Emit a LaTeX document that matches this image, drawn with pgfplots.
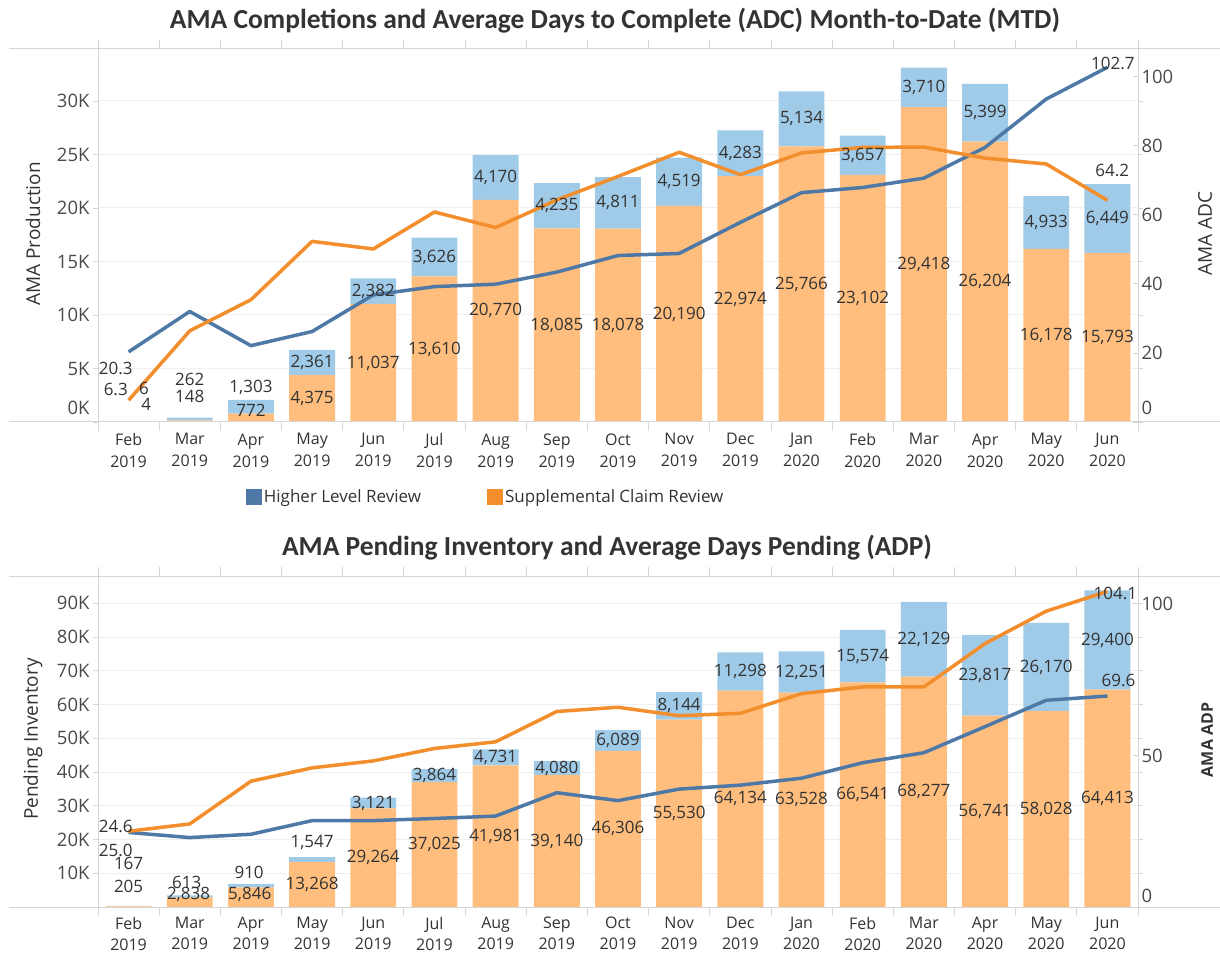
\documentclass[border=0pt]{standalone}
\usepackage{pgfplots}
\pgfplotsset{compat=1.18}
\usepackage{fontspec}
\setmainfont{Open Sans}
\newfontfamily\titlefont{Carlito}
\definecolor{barOrange}{HTML}{FFBE7D}
\definecolor{barBlue}{HTML}{A0CBE8}
\definecolor{lineBlue}{HTML}{4E79A7}
\definecolor{lineOrange}{HTML}{F28E2B}
\definecolor{txt}{HTML}{333333}
\definecolor{tick}{HTML}{4A4A4A}
\definecolor{gridc}{HTML}{EFEFEF}
\definecolor{axc}{HTML}{D6D6D6}

\pgfplotsset{
  panel/.style={scale only axis, width=1040pt, xmin=-0.5, xmax=16.5,
    anchor=south west, clip=false, scaled y ticks=false},
  months/.style={xtick={0,...,16},
    xticklabels={{Feb\\2019},{Mar\\2019},{Apr\\2019},{May\\2019},{Jun\\2019},{Jul\\2019},{Aug\\2019},{Sep\\2019},{Oct\\2019},{Nov\\2019},{Dec\\2019},{Jan\\2020},{Feb\\2020},{Mar\\2020},{Apr\\2020},{May\\2020},{Jun\\2020}},
    xticklabel style={align=center, font=\fontsize{16}{22}\selectfont, text=txt, anchor=north, yshift=-3pt},
    major x tick style={draw=none},
    minor xtick={-0.5,0.5,...,16.5},
    minor x tick style={draw=axc, line width=0.8pt},
    minor tick length=9pt, tick align=outside},
  barax/.style={panel, months, ybar stacked, bar width=0.75,
    axis line style={draw=none},
    ymajorgrids, major grid style={draw=gridc, line width=1pt},
    major y tick style={draw=axc, line width=0.8pt}, major tick length=5pt,
    yticklabel style={font=\fontsize{18.5}{20}\selectfont, text=tick}},
  lineax/.style={panel, axis x line=none, axis y line*=right,
    axis line style={draw=none},
    major y tick style={draw=axc, line width=0.8pt}, major tick length=5pt,
    yticklabel style={font=\fontsize{18.5}{20}\selectfont, text=tick, anchor=west}},
  labax/.style={panel, hide axis},
  labplot/.style={only marks, mark=none, nodes near coords, point meta=explicit symbolic,
    every node near coord/.append style={anchor=center, font=\fontsize{17}{18}\selectfont, text=txt, inner sep=0pt}}
}

\begin{document}
\begin{tikzpicture}[x=1pt,y=1pt]
\path[use as bounding box] (0,0) rectangle (1220,954);

% ---------------- TOP PANEL ----------------
\node[font=\titlefont\bfseries\fontsize{27.5}{30}\selectfont, text=txt] at (615,933) {AMA Completions and Average Days to Complete (ADC) Month-to-Date (MTD)};

\begin{axis}[barax, at={(98pt,532pt)}, height=373pt, ymin=0, ymax=34860,
  ytick={5000,10000,...,30000}, yticklabels={5K,10K,15K,20K,25K,30K},
  extra y ticks={0}, extra y tick labels={0K},
  extra y tick style={grid=none, yticklabel style={yshift=14pt}}]
\addplot[fill=barOrange, draw=none] table {
x y
0 4
1 148
2 772
3 4375
4 11037
5 13610
6 20770
7 18085
8 18078
9 20190
10 22974
11 25766
12 23102
13 29418
14 26204
15 16178
16 15793
};
\addplot[fill=barBlue, draw=none] table {
x y
0 6
1 262
2 1303
3 2361
4 2382
5 3626
6 4170
7 4235
8 4811
9 4519
10 4283
11 5134
12 3657
13 3710
14 5399
15 4933
16 6449
};
\end{axis}

\begin{axis}[lineax, at={(98pt,532pt)}, height=373pt, ymin=0, ymax=108,
  ytick={20,40,...,100}, yticklabels={20,40,60,80,100},
  extra y ticks={0}, extra y tick labels={0},
  extra y tick style={yticklabel style={yshift=14pt}},
  legend columns=2,
  legend style={at={(0.142,-0.201)}, anchor=west, draw=none, fill=none, inner sep=0pt,
    font=\fontsize{17}{18}\selectfont, text=txt,
    /tikz/every even column/.append style={column sep=64pt}},
  legend image code/.code={\fill[#1, draw=none] (0pt,-8pt) rectangle (16pt,8pt);}]
\addplot[color=lineBlue, line width=3.5pt, line join=round] table {
x y
0 20.3
1 32.0
2 22.1
3 26.2
4 36.8
5 39.2
6 39.9
7 43.4
8 48.2
9 48.8
10 57.8
11 66.4
12 67.9
13 70.6
14 79.5
15 93.5
16 102.7
};
\addlegendentry{Higher Level Review}
\addplot[color=lineOrange, line width=3.5pt, line join=round] table {
x y
0 6.3
1 26.4
2 35.4
3 52.3
4 50.1
5 60.8
6 56.3
7 64.3
8 71.1
9 78.1
10 71.6
11 77.9
12 79.5
13 79.6
14 76.4
15 74.7
16 64.2
};
\addlegendentry{Supplemental Claim Review}
\addplot[labplot, forget plot] table[meta=lab] {
x y lab
-0.21 15.4 20.3
-0.21 9.3 6.3
16.09 103.8 102.7
16.08 72.8 64.2
};
\end{axis}

\begin{axis}[labax, at={(98pt,532pt)}, height=373pt, ymin=0, ymax=34860]
\addplot[labplot] table[meta=lab] {
x y lab
0.29 1600 4
0.25 3150 6
1 2370 148
1 4000 262
2 1120 772
2 3200 1,303
3 2190 4,375
3 5555 2,361
4 5519 11,037
4 12228 2,382
5 6805 13,610
5 15423 3,626
6 10385 20,770
6 22855 4,170
7 9043 18,085
7 20203 4,235
8 9039 18,078
8 20484 4,811
9 10095 20,190
9 22450 4,519
10 11487 22,974
10 25116 4,283
11 12883 25,766
11 28333 5,134
12 11551 23,102
12 24931 3,657
13 14709 29,418
13 31273 3,710
14 13102 26,204
14 28904 5,399
15 8089 16,178
15 18645 4,933
16 7897 15,793
16 19018 6,449
};
\end{axis}

% frame lines top panel
\draw[axc, line width=1pt] (9,905) -- (1220,905);
\draw[axc, line width=1pt] (9,532) -- (1220,532);
\draw[axc, line width=1pt] (98,532) -- (98,905);
\draw[axc, line width=1pt] (1138,532) -- (1138,905);
\node[rotate=90, font=\fontsize{19}{20}\selectfont, text=txt] at (33,720) {AMA Production};
\node[rotate=90, font=\fontsize{19}{20}\selectfont, text=txt] at (1205,720) {AMA ADC};

% ---------------- BOTTOM PANEL ----------------
\node[font=\titlefont\bfseries\fontsize{27.5}{30}\selectfont, text=txt] at (607,406) {AMA Pending Inventory and Average Days Pending (ADP)};

\begin{axis}[barax, at={(98pt,47pt)}, height=331pt, ymin=0, ymax=98100,
  ytick={10000,20000,...,90000}, yticklabels={10K,20K,30K,40K,50K,60K,70K,80K,90K},
  xticklabel style={yshift=1.5pt, font=\fontsize{16}{21}\selectfont}]
\addplot[fill=barOrange, draw=none] table {
x y
0 205
1 2838
2 5846
3 13268
4 29264
5 37025
6 41981
7 39140
8 46306
9 55530
10 64134
11 63528
12 66541
13 68277
14 56741
15 58028
16 64413
};
\addplot[fill=barBlue, draw=none] table {
x y
0 167
1 613
2 910
3 1547
4 3121
5 3864
6 4731
7 4080
8 6089
9 8144
10 11298
11 12251
12 15574
13 22129
14 23817
15 26170
16 29400
};
\end{axis}

\begin{axis}[lineax, at={(98pt,47pt)}, height=331pt, ymin=0, ymax=109.2,
  ytick={50,100}, yticklabels={50,100},
  extra y ticks={0}, extra y tick labels={0},
  extra y tick style={yticklabel style={yshift=11pt}}]
\addplot[color=lineBlue, line width=3.5pt, line join=round] table {
x y
0 24.6
1 22.9
2 24.0
3 28.5
4 28.5
5 29.2
6 30.0
7 37.7
8 35.1
9 38.9
10 40.2
11 42.5
12 47.6
13 50.9
14 59.5
15 68.2
16 69.6
};
\addplot[color=lineOrange, line width=3.5pt, line join=round] table {
x y
0 25.0
1 27.4
2 41.5
3 45.9
4 48.2
5 52.3
6 54.5
7 64.5
8 65.9
9 63.1
10 63.9
11 70.4
12 72.6
13 72.6
14 86.9
15 97.6
16 104.1
};
\addplot[labplot] table[meta=lab] {
x y lab
-0.21 26.7 24.6
-0.21 18.5 25.0
16.13 103.3 104.1
16.18 74.6 69.6
};
\end{axis}

\begin{axis}[labax, at={(98pt,47pt)}, height=331pt, ymin=0, ymax=98100]
\addplot[labplot] table[meta=lab] {
x y lab
0 6200 205
0 13000 167
0.98 3600 2,838
0.95 7300 613
1.98 3800 5,846
1.97 10200 910
3 6634 13,268
3 19100 1,547
4 14632 29,264
4 30825 3,121
5 18513 37,025
5 38957 3,864
6 20991 41,981
6 44347 4,731
7 19570 39,140
7 41180 4,080
8 23153 46,306
8 49351 6,089
9 27765 55,530
9 59602 8,144
10 32067 64,134
10 69783 11,298
11 31764 63,528
11 69654 12,251
12 33271 66,541
12 74328 15,574
13 34139 68,277
13 79342 22,129
14 28371 56,741
14 68650 23,817
15 29014 58,028
15 71113 26,170
16 32207 64,413
16 79113 29,400
};
\end{axis}

\draw[axc, line width=1pt] (9,378) -- (1220,378);
\draw[axc, line width=1pt] (9,47) -- (1220,47);
\draw[axc, line width=1pt] (98,47) -- (98,378);
\draw[axc, line width=1pt] (1138,47) -- (1138,378);
\node[rotate=90, font=\fontsize{19}{20}\selectfont, text=txt] at (33,215) {Pending Inventory};
\node[rotate=90, font=\bfseries\fontsize{16}{18}\selectfont, text=txt] at (1207,214) {AMA ADP};
\end{tikzpicture}
\end{document}
